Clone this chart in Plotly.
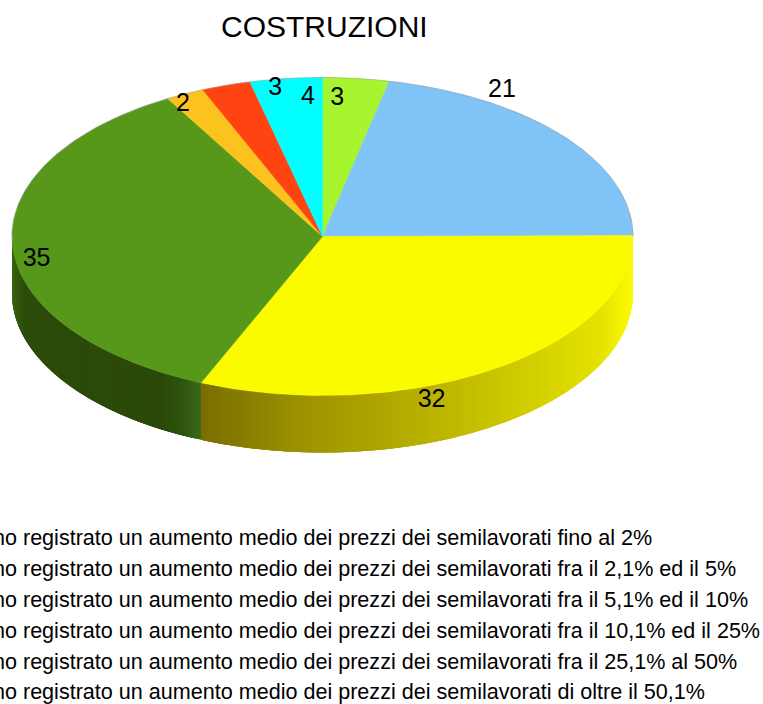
import math
import plotly.graph_objects as go

TITLE = "COSTRUZIONI"
# Shown labels (rounded) and slice sizes, clockwise from 12 o'clock
labels = ["3", "21", "32", "35", "2", "3", "4"]
values = [3.45, 21.45, 31.5, 35.3, 2.0, 2.55, 3.75]
colors = ["#a6f52e", "#7fc3f7", "#fbfb00", "#57981a", "#fcc31f", "#ff4411", "#00ffff"]
legend_lines = [
    "hanno registrato un aumento medio dei prezzi dei semilavorati fino al 2%",
    "hanno registrato un aumento medio dei prezzi dei semilavorati fra il 2,1% ed il 5%",
    "hanno registrato un aumento medio dei prezzi dei semilavorati fra il 5,1% ed il 10%",
    "hanno registrato un aumento medio dei prezzi dei semilavorati fra il 10,1% ed il 25%",
    "hanno registrato un aumento medio dei prezzi dei semilavorati fra il 25,1% al 50%",
    "hanno registrato un aumento medio dei prezzi dei semilavorati di oltre il 50,1%",
]

# Layout of the tilted disc, in page pixels
W, H = 763, 704
CX, CY, RX, RY, DEPTH = 322.5, 236.5, 310.5, 159, 57
label_offsets = [(-19, 20), (-62, -46), (-63, 32), (24, 14), (-2, 11), (49, 3), (22, 19)]
legend_y = [539.5, 570.5, 601.5, 632.5, 663.5, 694]
LEGEND_X = -43

# Wall shading as (x pixel, colour) stops
yellow_wall = [(202, (122, 110, 0)), (300, (156, 146, 0)), (430, (186, 178, 0)),
               (520, (208, 204, 0)), (600, (228, 226, 0)), (633, (252, 252, 0))]
green_wall = [(12, (58, 98, 16)), (25, (44, 76, 10)), (160, (42, 72, 8)),
              (180, (46, 82, 14)), (202, (56, 108, 24))]


def pt(deg, dy=0.0):
    a = math.radians(deg)
    return CX + RX * math.sin(a), CY - RY * math.cos(a) + dy


def arc(a0, a1, dy=0.0, step=1.0):
    n = max(2, int(abs(a1 - a0) / step) + 1)
    return [pt(a0 + (a1 - a0) * i / (n - 1), dy) for i in range(n)]


def shade(stops, x):
    if x <= stops[0][0]:
        return stops[0][1]
    for (x0, c0), (x1, c1) in zip(stops, stops[1:]):
        if x <= x1:
            t = (x - x0) / (x1 - x0)
            return tuple(c0[i] + (c1[i] - c0[i]) * t for i in range(3))
    return stops[-1][1]


def rgb(c):
    return "rgb(%d,%d,%d)" % tuple(round(v) for v in c)


total = sum(values)
edges = [0.0]
for v in values:
    edges.append(edges[-1] + v / total * 360)

fig = go.Figure()


def poly(points, fill, line=None, width=0):
    fig.add_trace(go.Scatter(
        x=[p[0] for p in points], y=[p[1] for p in points],
        mode="lines", fill="toself", fillcolor=fill,
        line=dict(color=line or fill, width=width), hoverinfo="skip", showlegend=False))


# Side wall: overlapping strips across the front half of the rim, each painted to the slice's end
for i in range(len(values)):
    a0, a1 = max(edges[i], 90), min(edges[i + 1], 270)
    if a1 <= a0:
        continue
    stops = yellow_wall if i == 2 else green_wall
    n = max(2, int((a1 - a0) * 1.5))
    for k in range(n):
        b0 = a0 + (a1 - a0) * k / n
        b1 = a0 + (a1 - a0) * (k + 1) / n
        end = min(a1, b1 + 1.5)
        top = arc(b0, end, 0, 0.5)
        bottom = arc(end, b0, DEPTH, 0.5)
        col = rgb(shade(stops, pt((b0 + b1) / 2)[0]))
        poly(top + bottom, col, width=0)

# Top face slices
for i, col in enumerate(colors):
    poly([(CX, CY)] + arc(edges[i], edges[i + 1]) + [(CX, CY)], col, width=0.5)

# Thin grey rim around the back of the disc
rim = arc(-90, 90)
fig.add_trace(go.Scatter(x=[p[0] for p in rim], y=[p[1] for p in rim], mode="lines",
                         line=dict(color="rgba(150,150,150,0.5)", width=1),
                         hoverinfo="skip", showlegend=False))

# Slice value labels
lx, ly = [], []
for i in range(len(values)):
    px, py = pt((edges[i] + edges[i + 1]) / 2)
    lx.append(px + label_offsets[i][0])
    ly.append(py + label_offsets[i][1])
fig.add_trace(go.Scatter(x=lx, y=ly, mode="text", text=labels, textposition="middle center",
                         textfont=dict(family="Liberation Sans", size=25, color="#000000"),
                         hoverinfo="skip", showlegend=False))

# Legend text (cut off by the left page edge)
fig.add_trace(go.Scatter(x=[LEGEND_X] * len(legend_lines), y=legend_y, mode="text",
                         text=legend_lines, textposition="middle right", cliponaxis=True,
                         textfont=dict(family="Liberation Sans", size=21.57, color="#000000"),
                         hoverinfo="skip", showlegend=False))

fig.update_layout(
    width=W, height=H, autosize=False,
    margin=dict(l=0, r=0, t=0, b=0),
    paper_bgcolor="#ffffff", plot_bgcolor="#ffffff",
    showlegend=False,
    xaxis=dict(range=[0, W], visible=False, fixedrange=True),
    yaxis=dict(range=[H, 0], visible=False, fixedrange=True),
    annotations=[dict(text=TITLE, x=324, y=26, xref="x", yref="y", showarrow=False,
                      xanchor="center", yanchor="middle",
                      font=dict(family="Liberation Sans", size=30, color="#000000"))],
)
fig.write_html("out.html", config=dict(displayModeBar=False),
               post_script="document.body.style.margin='0';document.body.style.overflow='hidden';")
